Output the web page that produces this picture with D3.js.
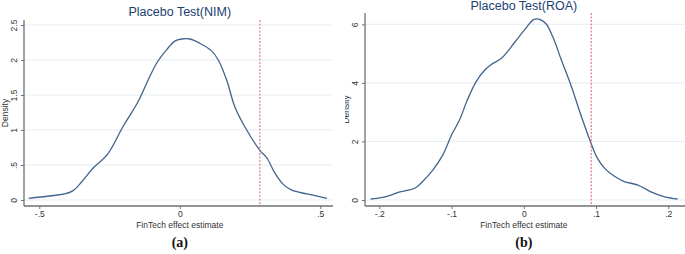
<!DOCTYPE html>
<html><head><meta charset="utf-8">
<script src="https://cdn.jsdelivr.net/npm/d3@7/dist/d3.min.js"></script>
<style>body{margin:0;background:#fff}svg{display:block}</style>
</head><body>
<script>
// Panel (a): NIM
const nimX = [-0.538,-0.464,-0.41,-0.381,-0.351,-0.31,-0.256,-0.202,-0.149,-0.113,-0.083,-0.048,-0.018,0.006,0.036,0.071,0.113,0.137,0.167,0.196,0.238,0.285,0.31,0.339,0.369,0.399,0.452,0.524];
const nimY = [0.024,0.057,0.086,0.13,0.25,0.45,0.66,1.05,1.40,1.71,1.95,2.14,2.27,2.30,2.30,2.24,2.13,2.0,1.71,1.33,1.0,0.71,0.60,0.38,0.22,0.14,0.086,0.024];
const nimXTicks = [-0.5, 0, 0.5];
const nimXTickLabels = ["-.5","0",".5"];
const nimYTicks = [0, 0.5, 1, 1.5, 2, 2.5];
const nimYTickLabels = ["0",".5","1","1.5","2","2.5"];
const nimActual = 0.285;

// Panel (b): ROA
const roaX = [-0.212,-0.197,-0.186,-0.174,-0.163,-0.151,-0.140,-0.126,-0.112,-0.100,-0.089,-0.078,-0.066,-0.054,-0.045,-0.031,-0.013,0.001,0.014,0.022,0.031,0.040,0.052,0.066,0.079,0.093,0.102,0.112,0.126,0.139,0.158,0.176,0.195,0.213];
const roaY = [0.034,0.08,0.15,0.26,0.32,0.40,0.63,1.02,1.54,2.22,2.73,3.42,4.04,4.44,4.63,4.84,5.37,5.81,6.17,6.17,6.01,5.58,4.78,3.87,2.90,1.94,1.42,1.08,0.80,0.63,0.51,0.28,0.11,0.034];
const roaXTicks = [-0.2,-0.1,0,0.1,0.2];
const roaXTickLabels = ["-.2","-.1","0",".1",".2"];
const roaYTicks = [0,2,4,6];
const roaYTickLabels = ["0","2","4","6"];
const roaActual = 0.0933;

const titles = ["Placebo Test(NIM)","Placebo Test(ROA)"];
const xLabel = "FinTech effect estimate";
const yLabel = "Density";
const panelLabels = ["(a)","(b)"];

const W=685,H=254;
const SANS="Liberation Sans, Arial, sans-serif", SERIF="Liberation Serif, Times New Roman, serif";
const svg=d3.select("body").append("svg").attr("width",W).attr("height",H);

const gridColor="#e3eef1", axisColor="#707070", lineColor="#41648e", refColor="#e0607a", titleColor="#1a3f6f", textColor="#333";

function panel(cfg){
  const g=svg.append("g");
  if(cfg.clip){
    const id="clip"+cfg.idx;
    svg.append("clipPath").attr("id",id).append("rect").attr("x",cfg.clip[0]).attr("y",0).attr("width",cfg.clip[1]-cfg.clip[0]).attr("height",H);
    g.attr("clip-path",`url(#${id})`);
  }
  const x=d3.scaleLinear().domain(cfg.xDom).range(cfg.xRange);
  const y=d3.scaleLinear().domain(cfg.yDom).range(cfg.yRange);
  g.selectAll(".grid").data(cfg.yTicks).join("line")
    .attr("x1",cfg.plotL).attr("x2",cfg.plotR).attr("y1",d=>y(d)).attr("y2",d=>y(d))
    .attr("stroke",gridColor).attr("stroke-width",1);
  const pts=cfg.xs.map((v,i)=>[v,cfg.ys[i]]);
  g.append("path").datum(pts)
    .attr("d",d3.line().x(d=>x(d[0])).y(d=>y(d[1])).curve(d3.curveCatmullRom.alpha(0.5)))
    .attr("fill","none").attr("stroke",lineColor).attr("stroke-width",1.3);
  g.append("line").attr("x1",x(cfg.actual)).attr("x2",x(cfg.actual))
    .attr("y1",cfg.plotT).attr("y2",cfg.axisY)
    .attr("stroke",refColor).attr("stroke-width",1).attr("stroke-dasharray","2,1.5");
  const xa=d3.axisBottom(x).tickValues(cfg.xTicks).tickFormat((d,i)=>cfg.xTickLabels[i]).tickSizeOuter(0).tickSize(3).tickPadding(2);
  const gx=g.append("g").attr("transform",`translate(0,${cfg.axisY})`).call(xa);
  gx.select(".domain").attr("d",`M${cfg.plotL},0H${cfg.plotR}`).attr("stroke",axisColor).attr("stroke-width",1.3);
  gx.selectAll(".tick line").attr("stroke",axisColor);
  gx.selectAll(".tick text").style("font-size","8.5px").style("font-family",SANS).attr("fill",textColor);
  const ya=d3.axisLeft(y).tickValues(cfg.yTicks).tickFormat((d,i)=>cfg.yTickLabels[i]).tickSizeOuter(0).tickSize(3).tickPadding(2);
  const gy=g.append("g").attr("transform",`translate(${cfg.axisX},0)`).call(ya);
  gy.select(".domain").attr("d",`M0,${cfg.plotT}V${cfg.axisY}`).attr("stroke",axisColor).attr("stroke-width",1.3);
  gy.selectAll(".tick line").attr("stroke",axisColor);
  gy.selectAll(".tick text").style("font-size","8.5px").style("font-family",SANS).attr("fill",textColor)
    .attr("transform","rotate(-90)").attr("x",0).attr("y",-7).attr("dy","0").attr("text-anchor","middle");
  g.append("text").attr("transform",`translate(${cfg.axisX-16},${(cfg.plotT+cfg.axisY)/2}) rotate(-90)`)
    .attr("text-anchor","middle").style("font-size","8.5px").style("font-family",SANS).attr("fill",textColor).text(yLabel);
  g.append("text").attr("x",x(0)).attr("y",cfg.axisY+22).attr("text-anchor","middle").style("font-size","8.5px").style("font-family",SANS).attr("fill",textColor).text(xLabel);
  g.append("text").attr("x",x(0)).attr("y",cfg.titleY).attr("text-anchor","middle").style("font-size","12.5px").style("font-family",SANS).attr("fill",titleColor).text(cfg.title);
  svg.append("text").attr("x",x(0)).attr("y",247).attr("text-anchor","middle").style("font-size","14px").style("font-weight","bold")
    .style("font-family",SERIF).attr("fill","#111").text(cfg.panel);
}

panel({idx:0,xs:nimX,ys:nimY,xDom:[-0.5,0.5],xRange:[39.3,320.3],yDom:[0,2.5],yRange:[200,25],
  xTicks:nimXTicks,xTickLabels:nimXTickLabels,yTicks:nimYTicks,yTickLabels:nimYTickLabels,actual:nimActual,
  plotL:24,plotR:333,plotT:20,axisY:206,axisX:24,title:titles[0],titleY:16,panel:panelLabels[0]});
panel({idx:1,xs:roaX,ys:roaY,xDom:[-0.2,0.2],xRange:[379.3,668.3],yDom:[0,6],yRange:[200,24.3],
  xTicks:roaXTicks,xTickLabels:roaXTickLabels,yTicks:roaYTicks,yTickLabels:roaYTickLabels,actual:roaActual,
  plotL:365,plotR:685,plotT:13,axisY:206,axisX:365,title:titles[1],titleY:10,panel:panelLabels[1],clip:[345,685]});
</script>
</body></html>
